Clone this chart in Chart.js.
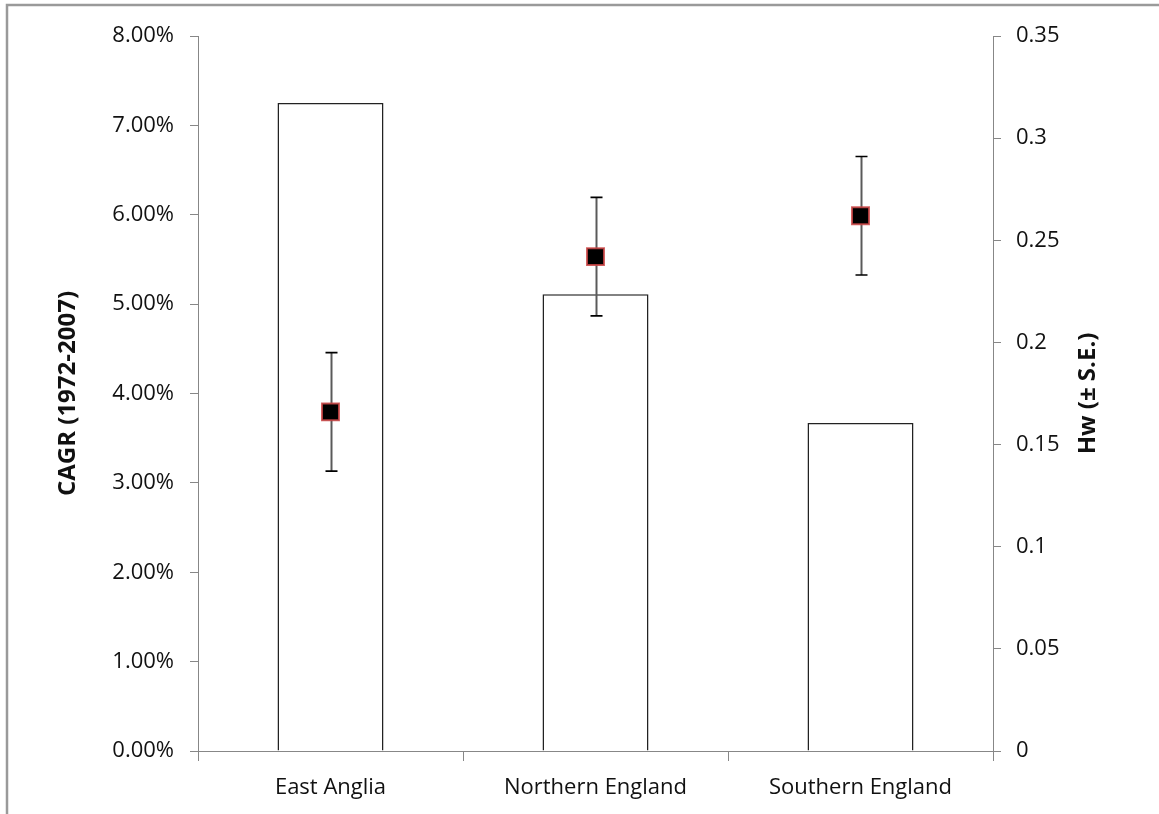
<!DOCTYPE html>
<html>
<head>
<meta charset="utf-8">
<script src="https://cdn.jsdelivr.net/npm/chart.js@4/dist/chart.umd.min.js"></script>
<style>
  html, body { margin: 0; padding: 0; background: #fff; }
  #wrap { width: 1159px; height: 814px; }
</style>
</head>
<body>
<div id="wrap"><canvas id="c" width="1159" height="814"></canvas></div>
<script>
// ---- data ----
const categories = ['East Anglia', 'Northern England', 'Southern England'];
const cagrValues = [0.0725, 0.0511, 0.0367];          // left axis (bars)
const hwValues = [0.166, 0.242, 0.262];               // right axis (points)
const hwErrors = [0.029, 0.029, 0.029];               // ± S.E.
const leftTickLabels = ['0.00%', '1.00%', '2.00%', '3.00%', '4.00%', '5.00%', '6.00%', '7.00%', '8.00%'];
const rightTickLabels = ['0', '0.05', '0.1', '0.15', '0.2', '0.25', '0.3', '0.35'];
const leftTitle = 'CAGR (1972-2007)';
const rightTitle = 'Hw (± S.E.)';

const FONT = "'Open Sans', 'DejaVu Sans', sans-serif";
const AXIS = '#878787';

const framePlugin = {
  id: 'frame',
  beforeDraw(chart) {
    const ctx = chart.ctx;
    ctx.save();
    ctx.fillStyle = '#fff';
    ctx.fillRect(0, 0, chart.width, chart.height);
    ctx.strokeStyle = '#9a9a9a';
    ctx.lineWidth = 2.5;
    ctx.beginPath();
    ctx.moveTo(chart.width, 5);
    ctx.lineTo(7, 5);
    ctx.lineTo(7, chart.height);
    ctx.stroke();
    ctx.restore();
  }
};

const errorBarPlugin = {
  id: 'errorBars',
  beforeDatasetDraw(chart, args) {
    if (args.index !== 0) return;
    const ctx = chart.ctx;
    const xs = chart.scales.x;
    const ys = chart.scales.y2;
    ctx.save();
    hwValues.forEach((v, i) => {
      const x = Math.round(xs.getPixelForValue(i)) + 0.5;
      const yt = ys.getPixelForValue(v + hwErrors[i]);
      const yb = ys.getPixelForValue(v - hwErrors[i]);
      ctx.strokeStyle = '#5a5a5a';
      ctx.lineWidth = 2;
      ctx.beginPath();
      ctx.moveTo(x, yt);
      ctx.lineTo(x, yb);
      ctx.stroke();
      ctx.strokeStyle = '#000';
      ctx.lineWidth = 1.6;
      ctx.beginPath();
      ctx.moveTo(x - 6, yt); ctx.lineTo(x + 6, yt);
      ctx.moveTo(x - 6, yb); ctx.lineTo(x + 6, yb);
      ctx.stroke();
    });
    ctx.restore();
  }
};

const rightTitlePlugin = {
  id: 'rightTitle',
  afterDraw(chart) {
    const ctx = chart.ctx;
    const ys = chart.scales.y2;
    ctx.save();
    ctx.translate(1088, (ys.top + ys.bottom) / 2);
    ctx.rotate(-Math.PI / 2);
    ctx.font = "bold 24px " + FONT;
    ctx.fillStyle = '#111';
    ctx.textAlign = 'center';
    ctx.textBaseline = 'middle';
    ctx.fillText(rightTitle, 0, 0);
    ctx.restore();
  }
};

new Chart(document.getElementById('c'), {
  data: {
    labels: categories,
    datasets: [
      {
        type: 'line',
        label: 'Hw',
        data: hwValues,
        yAxisID: 'y2',
        showLine: false,
        pointStyle: 'rect',
        pointRadius: 12,
        pointHoverRadius: 12,
        pointBackgroundColor: '#000',
        pointBorderColor: 'rgba(205,70,70,0.85)',
        pointBorderWidth: 2,
        order: 0
      },
      {
        type: 'bar',
        label: 'CAGR',
        data: cagrValues,
        yAxisID: 'y',
        backgroundColor: '#fff',
        borderColor: '#222',
        borderWidth: 1.5,
        barPercentage: 0.4,
        categoryPercentage: 1.0,
        order: 1
      }
    ]
  },
  options: {
    responsive: false,
    animation: false,
    layout: { padding: { top: 36, left: 0, right: 0, bottom: 0 } },
    plugins: { legend: { display: false }, tooltip: { enabled: false } },
    scales: {
      x: {
        offset: true,
        grid: { offset: true, drawOnChartArea: false, drawTicks: true, tickLength: 10, color: AXIS },
        border: { color: AXIS, width: 1 },
        ticks: { font: { family: FONT, size: 22 }, color: '#111', padding: 14, maxRotation: 0 },
        afterFit(s) { s.height = 63; }
      },
      y: {
        position: 'left',
        min: 0, max: 0.08,
        ticks: {
          stepSize: 0.01,
          font: { family: FONT, size: 22 }, color: '#111', padding: 16,
          callback: (v, i) => leftTickLabels[i]
        },
        grid: { drawOnChartArea: false, drawTicks: true, tickLength: 8, color: AXIS },
        border: { color: AXIS, width: 1 },
        title: { display: true, text: leftTitle, font: { family: FONT, size: 24, weight: 'bold' }, color: '#111', padding: { top: 54, bottom: 0 } },
        afterFit(s) { s.width = 198; }
      },
      y2: {
        position: 'right',
        min: 0, max: 0.35,
        ticks: {
          stepSize: 0.05,
          font: { family: FONT, size: 22 }, color: '#111', padding: 15,
          callback: (v, i) => rightTickLabels[i]
        },
        grid: { drawOnChartArea: false, drawTicks: true, tickLength: 8, color: AXIS },
        border: { color: AXIS, width: 1 },
        afterFit(s) { s.width = 166; }
      }
    }
  },
  plugins: [framePlugin, errorBarPlugin, rightTitlePlugin]
});
</script>
</body>
</html>
